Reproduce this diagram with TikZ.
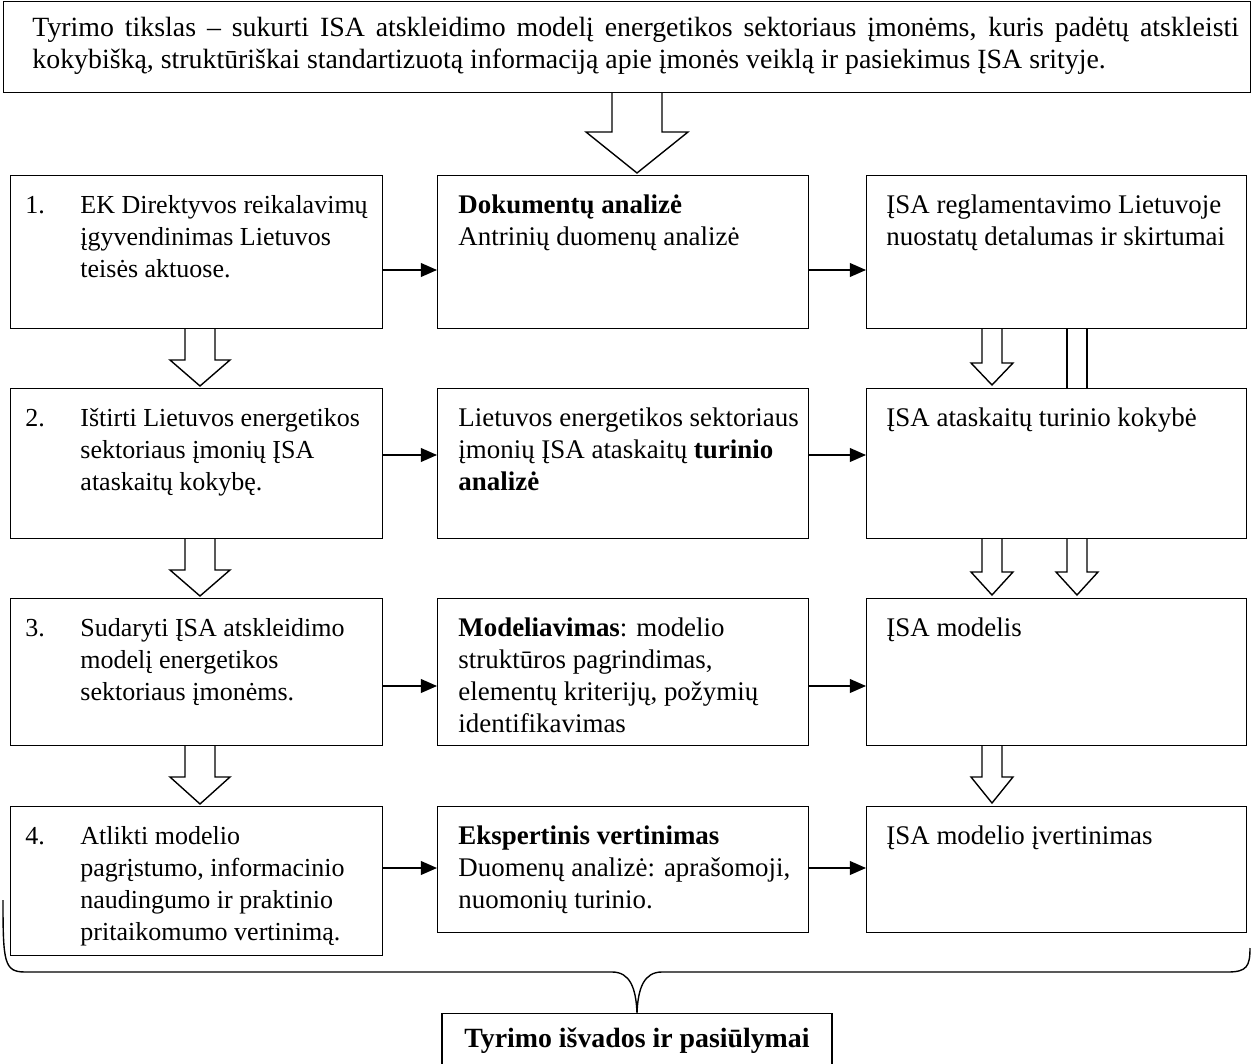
\documentclass[tikz,border=0pt]{standalone}
\usepackage{fontspec}
\setmainfont{Liberation Serif}
\usetikzlibrary{arrows.meta}
\newcommand{\pxu}{0.431pt}
\tikzset{
  box/.style={draw, anchor=north west, inner sep=0pt, line width=0.6pt},
  boxsize/.style 2 args={minimum width={#1*\pxu}, minimum height={#2*\pxu}},
  txt/.style={anchor=north west, inner sep=0pt, align=left, font=\fontsize{12}{13.8}\selectfont},
  ltxt/.style={txt, font=\fontsize{11.2}{13.8}\selectfont},
  mtxt/.style={txt, font=\fontsize{11.6}{13.8}\selectfont},
  flow/.style={line width=0.6pt, -{Triangle[length=7pt,width=6pt]}},
  hollow/.style={line width=0.6pt, line join=miter},
}
% hollow down arrow: x, top, head start, tip, shaft half width, head half width
\newcommand{\hollowdown}[6]{%
  \draw[hollow] ({#1-#5},#2) -- ({#1-#5},#3) -- ({#1-#6},#3) -- (#1,#4)
    -- ({#1+#6},#3) -- ({#1+#5},#3) -- ({#1+#5},#2);}

\begin{document}
\begin{tikzpicture}[x=0.431pt,y=-0.431pt]
\useasboundingbox (0,0) rectangle (1252,1064);

% aim
\node at (3,1) [box, boxsize={1247}{91}] (aim) {};
\node at ([shift={(29,13)}]aim.north west) [txt, text width=520pt, align=justify] (aimtxt)
  {\strut Tyrimo tikslas – sukurti ISA atskleidimo modelį energetikos sektoriaus įmonėms, kuris padėtų atskleisti\linebreak kokybišką, struktūriškai standartizuotą informaciją apie įmonės veiklą ir pasiekimus ĮSA srityje.};

% left column
\node at (10,175) [box, boxsize={372}{153}] (l1) {};
\node at (10,388) [box, boxsize={372}{150}] (l2) {};
\node at (10,598) [box, boxsize={372}{147}] (l3) {};
\node at (10,806) [box, boxsize={372}{149}] (l4) {};
% middle column
\node at (437,175) [box, boxsize={371}{153}] (m1) {};
\node at (437,388) [box, boxsize={371}{150}] (m2) {};
\node at (437,598) [box, boxsize={371}{147}] (m3) {};
\node at (437,806) [box, boxsize={371}{126}] (m4) {};
% right column
\node at (866,175) [box, boxsize={380}{153}] (r1) {};
\node at (866,388) [box, boxsize={380}{150}] (r2) {};
\node at (866,598) [box, boxsize={380}{147}] (r3) {};
\node at (866,806) [box, boxsize={380}{126}] (r4) {};

\node at ([shift={(15,16)}]l1.north west) [ltxt] (n1) {\strut 1.};
\node at ([shift={(70,16)}]l1.north west) [ltxt] (lt1) {\strut EK Direktyvos reikalavimų\\ įgyvendinimas Lietuvos\\ teisės aktuose.};
\node at ([shift={(15,16)}]l2.north west) [ltxt] (n2) {\strut 2.};
\node at ([shift={(70,16)}]l2.north west) [ltxt] (lt2) {\strut Ištirti Lietuvos energetikos\\ sektoriaus įmonių ĮSA\\ ataskaitų kokybę.};
\node at ([shift={(15,16)}]l3.north west) [ltxt] (n3) {\strut 3.};
\node at ([shift={(70,16)}]l3.north west) [ltxt] (lt3) {\strut Sudaryti ĮSA atskleidimo\\ modelį energetikos\\ sektoriaus įmonėms.};
\node at ([shift={(15,16)}]l4.north west) [ltxt] (n4) {\strut 4.};
\node at ([shift={(70,16)}]l4.north west) [ltxt] (lt4) {\strut Atlikti modelio\\ pagrįstumo, informacinio\\ naudingumo ir praktinio\\ pritaikomumo vertinimą.};

\node at ([shift={(21,16)}]m1.north west) [mtxt] (mt1) {\strut\textbf{Dokumentų analizė}\\ Antrinių duomenų analizė};
\node at ([shift={(21,16)}]m2.north west) [mtxt] (mt2) {\strut Lietuvos energetikos sektoriaus\\ įmonių ĮSA ataskaitų \textbf{turinio}\\ \textbf{analizė}};
\node at ([shift={(21,16)}]m3.north west) [mtxt] (mt3) {\strut\textbf{Modeliavimas}: modelio\\ struktūros pagrindimas,\\ elementų kriterijų, požymių\\ identifikavimas};
\node at ([shift={(21,16)}]m4.north west) [mtxt] (mt4) {\strut\textbf{Ekspertinis vertinimas}\\ Duomenų analizė: aprašomoji,\\ nuomonių turinio.};

\node at ([shift={(20,16)}]r1.north west) [mtxt] (rt1) {\strut ĮSA reglamentavimo Lietuvoje\\ nuostatų detalumas ir skirtumai};
\node at ([shift={(20,16)}]r2.north west) [mtxt] (rt2) {\strut ĮSA ataskaitų turinio kokybė};
\node at ([shift={(20,16)}]r3.north west) [mtxt] (rt3) {\strut ĮSA modelis};
\node at ([shift={(20,16)}]r4.north west) [mtxt] (rt4) {\strut ĮSA modelio įvertinimas};

% result
\node at (637,1013) [draw, anchor=north, inner sep=0pt, line width=0.6pt, boxsize={390}{54},
  font=\fontsize{12}{13.8}\selectfont\bfseries] (out) {Tyrimo išvados ir pasiūlymai};

% flow arrows
\draw[flow] (l1.east |- 0,270) -- (m1.west |- 0,270);
\draw[flow] (m1.east |- 0,270) -- (r1.west |- 0,270);
\draw[flow] (l2.east |- 0,455) -- (m2.west |- 0,455);
\draw[flow] (m2.east |- 0,455) -- (r2.west |- 0,455);
\draw[flow] (l3.east |- 0,686) -- (m3.west |- 0,686);
\draw[flow] (m3.east |- 0,686) -- (r3.west |- 0,686);
\draw[flow] (l4.east |- 0,868) -- (m4.west |- 0,868);
\draw[flow] (m4.east |- 0,868) -- (r4.west |- 0,868);

% block arrows
\hollowdown{637}{92}{132}{173}{25}{51}
\hollowdown{200}{329}{360}{386}{15}{30}
\hollowdown{200}{539}{570}{596}{15}{30}
\hollowdown{200}{746}{777}{804}{15}{30}
\hollowdown{992}{329}{363}{385}{10}{21}
\hollowdown{992}{539}{572}{595}{10}{21}
\hollowdown{1077}{539}{572}{595}{10}{21}
\hollowdown{992}{746}{777}{803}{10}{21}
\draw[hollow] (1067,329) -- (1067,388) (1087,329) -- (1087,388);

% brace
\draw[line width=0.6pt] (3,900) .. controls (3,962) and (4,972) .. (25,972) -- (612,972)
  .. controls (630,972) and (636,988) .. (out.north)
  .. controls (638,988) and (644,972) .. (662,972) -- (1228,972)
  .. controls (1247,972) and (1250,966) .. (1250,948);
\end{tikzpicture}
\end{document}
